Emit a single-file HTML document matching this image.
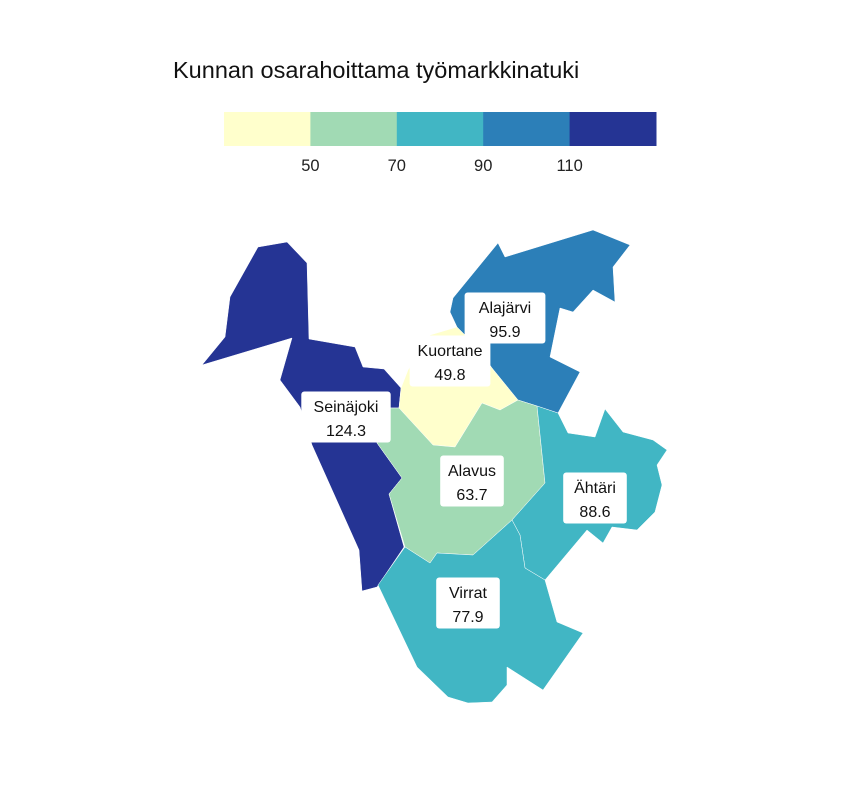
<!DOCTYPE html>
<html><head><meta charset="utf-8">
<style>
html,body{margin:0;padding:0;background:#fff;}
svg{display:block;font-family:"Liberation Sans",sans-serif;}
</style></head>
<body>
<svg id="chart" width="864" height="792" viewBox="0 0 864 792">
<text x="173" y="78" font-size="23.5" fill="#111">Kunnan osarahoittama työmarkkinatuki</text>
<g id="legend"></g>
<g id="regions"></g>
<g id="labels"></g>
</svg>
<script>
const municipalities = ["Seinäjoki","Kuortane","Alajärvi","Alavus","Ähtäri","Virrat"];
const values = [124.3, 49.8, 95.9, 63.7, 88.6, 77.9];
const breaks = [50, 70, 90, 110];
const colors = ["#ffffcc","#a1dab4","#41b6c4","#2c7fb8","#253494"];
const shapes = [
 "258,247 287,242 307,263 309,339 355,347 363,367 384,369 401,388 399,408 387,408 377,443 402,478 389,494 404,547 377,587 362,591 359,550 312,445 300,407 280,380 292,338 202,365 225,337 230,297",
 "399,408 401,388 408,370 430,335 457,327 467,337 492,368 518,400 500,410 482,403 455,447 433,445",
 "450,312 453,298 498,243 505,257 593,230 630,245 613,267 615,302 593,290 573,312 560,308 550,357 580,372 558,413 537,406 518,400 492,368 477,347 467,337 457,327",
 "399,408 433,445 455,447 482,403 500,410 518,400 537,406 545,483 512,520 473,555 437,553 430,563 405,547 389,494 402,478 377,443 387,408",
 "537,406 558,413 568,433 595,437 605,409 623,432 653,440 667,450 657,465 662,485 655,512 637,530 612,527 603,543 587,530 545,580 525,568 520,535 512,520 545,483",
 "378,585 405,547 430,563 437,553 473,555 512,520 520,535 525,568 545,580 557,622 583,633 543,690 507,667 507,685 492,702 468,703 448,697 417,667"
];
const labelCenters = [[346,417],[450,361],[505,318],[472,481],[595,498],[468,603]];
const NS="http://www.w3.org/2000/svg";
function colorFor(v){let i=0;while(i<breaks.length&&v>=breaks[i])i++;return colors[i];}
const lg=document.getElementById('legend');
const lx0=224,lw=432,ly=112,lh=34,seg=lw/colors.length;
colors.forEach((c,i)=>{
 const r=document.createElementNS(NS,'rect');
 r.setAttribute('x',lx0+i*seg);r.setAttribute('y',ly);r.setAttribute('width',seg+0.5);r.setAttribute('height',lh);r.setAttribute('fill',c);
 
 
 lg.appendChild(r);
});
breaks.forEach((b,i)=>{
 const t=document.createElementNS(NS,'text');
 t.setAttribute('x',lx0+(i+1)*seg);t.setAttribute('y',171);t.setAttribute('text-anchor','middle');t.setAttribute('font-size','16.5');t.setAttribute('fill','#222');
 t.textContent=b;
 
 
 lg.appendChild(t);
});
const rg=document.getElementById('regions'),lb=document.getElementById('labels');
municipalities.forEach((m,i)=>{
 const p=document.createElementNS(NS,'polygon');
 p.setAttribute('points',shapes[i]);p.setAttribute('fill',colorFor(values[i]));p.setAttribute('stroke','#fff');p.setAttribute('stroke-width','0.5');
 
 
 rg.appendChild(p);
});
municipalities.forEach((m,i)=>{
 const [cx,cy]=labelCenters[i];
 const w=Math.max(m.length*8.6+12,54),h=51;
 const g=document.createElementNS(NS,'g');
 
 
 const r=document.createElementNS(NS,'rect');
 r.setAttribute('x',cx-w/2);r.setAttribute('y',cy-h/2);r.setAttribute('width',w);r.setAttribute('height',h);r.setAttribute('rx',3);r.setAttribute('fill','#fff');
 g.appendChild(r);
 const t1=document.createElementNS(NS,'text');
 t1.setAttribute('x',cx);t1.setAttribute('y',cy-5);t1.setAttribute('text-anchor','middle');t1.setAttribute('font-size','16');t1.setAttribute('fill','#111');t1.textContent=m;
 g.appendChild(t1);
 const t2=document.createElementNS(NS,'text');
 t2.setAttribute('x',cx);t2.setAttribute('y',cy+19);t2.setAttribute('text-anchor','middle');t2.setAttribute('font-size','16');t2.setAttribute('fill','#111');t2.textContent=values[i].toFixed(1);
 g.appendChild(t2);
 lb.appendChild(g);
});
</script>
</body></html>
